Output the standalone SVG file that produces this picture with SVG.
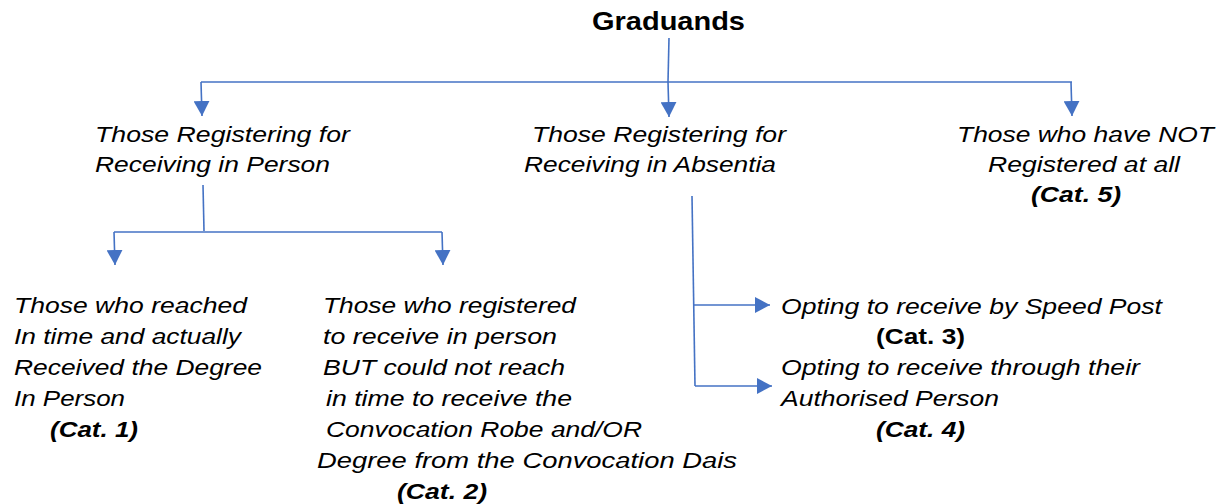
<svg xmlns="http://www.w3.org/2000/svg" width="1222" height="504" viewBox="0 0 1222 504">
<style>
text{font-family:"Liberation Sans",Arial,sans-serif;font-size:22px;fill:#000;font-style:italic}
.b{font-weight:bold}
.t{font-style:normal;font-weight:bold;font-size:25px}
.c{fill:none;stroke:#4472C4;stroke-width:1.6}
</style>
<defs>
<marker id="ah" markerUnits="userSpaceOnUse" markerWidth="16" markerHeight="16" refX="15" refY="8" orient="auto">
<path d="M0,0 L15,8 L0,16 z" fill="#4472C4"/>
</marker>
</defs>
<rect width="1222" height="504" fill="#fff"/>
<g id="connectors">
<path class="c" d="M669,38 L668,82"/>
<path class="c" d="M201,82 L1072,82"/>
<path class="c" d="M201,82 L202,116" marker-end="url(#ah)"/>
<path class="c" d="M668,82 L669,117" marker-end="url(#ah)"/>
<path class="c" d="M1071,82 L1072,116" marker-end="url(#ah)"/>
<path class="c" d="M203,185 L204,231"/>
<path class="c" d="M114,232 L442,232"/>
<path class="c" d="M114,232 L115,265" marker-end="url(#ah)"/>
<path class="c" d="M442,232 L443,265" marker-end="url(#ah)"/>
<path class="c" d="M692,196 L695,386"/>
<path class="c" d="M693,305 L770,305" marker-end="url(#ah)"/>
<path class="c" d="M695,386 L772,386" marker-end="url(#ah)"/>
</g>
<g id="graduands"><text class="t" x="592" y="30" textLength="153" lengthAdjust="spacingAndGlyphs">Graduands</text></g>
<g id="in-person">
<text x="95" y="142" textLength="255" lengthAdjust="spacingAndGlyphs">Those Registering for</text>
<text x="95" y="172" textLength="235" lengthAdjust="spacingAndGlyphs">Receiving in Person</text>
</g>
<g id="in-absentia">
<text x="532" y="142" textLength="254" lengthAdjust="spacingAndGlyphs">Those Registering for</text>
<text x="524" y="172" textLength="252" lengthAdjust="spacingAndGlyphs">Receiving in Absentia</text>
</g>
<g id="not-registered">
<text x="957" y="142" textLength="257" lengthAdjust="spacingAndGlyphs">Those who have NOT</text>
<text x="988" y="172" textLength="192" lengthAdjust="spacingAndGlyphs">Registered at all</text>
<text class="b" x="1031" y="202" textLength="90" lengthAdjust="spacingAndGlyphs">(Cat. 5)</text>
</g>
<g id="cat1">
<text x="14" y="313" textLength="233" lengthAdjust="spacingAndGlyphs">Those who reached</text>
<text x="14" y="344" textLength="227" lengthAdjust="spacingAndGlyphs">In time and actually</text>
<text x="14" y="375" textLength="248" lengthAdjust="spacingAndGlyphs">Received the Degree</text>
<text x="14" y="406" textLength="111" lengthAdjust="spacingAndGlyphs">In Person</text>
<text class="b" x="50" y="437" textLength="88" lengthAdjust="spacingAndGlyphs">(Cat. 1)</text>
</g>
<g id="cat2">
<text x="323" y="313" textLength="253" lengthAdjust="spacingAndGlyphs">Those who registered</text>
<text x="323" y="344" textLength="234" lengthAdjust="spacingAndGlyphs">to receive in person</text>
<text x="323" y="375" textLength="242" lengthAdjust="spacingAndGlyphs">BUT could not reach</text>
<text x="326" y="406" textLength="246" lengthAdjust="spacingAndGlyphs">in time to receive the</text>
<text x="326" y="437" textLength="316" lengthAdjust="spacingAndGlyphs">Convocation Robe and/OR</text>
<text x="317" y="468" textLength="420" lengthAdjust="spacingAndGlyphs">Degree from the Convocation Dais</text>
<text class="b" x="397" y="499" textLength="90" lengthAdjust="spacingAndGlyphs">(Cat. 2)</text>
</g>
<g id="cat3">
<text x="781" y="314" textLength="381" lengthAdjust="spacingAndGlyphs">Opting to receive by Speed Post</text>
<text class="b" x="876" y="344" textLength="89" lengthAdjust="spacingAndGlyphs" style="font-style:normal">(Cat. 3)</text>
</g>
<g id="cat4">
<text x="781" y="375" textLength="359" lengthAdjust="spacingAndGlyphs">Opting to receive through their</text>
<text x="781" y="406" textLength="218" lengthAdjust="spacingAndGlyphs">Authorised Person</text>
<text class="b" x="876" y="437" textLength="89" lengthAdjust="spacingAndGlyphs">(Cat. 4)</text>
</g>
</svg>
